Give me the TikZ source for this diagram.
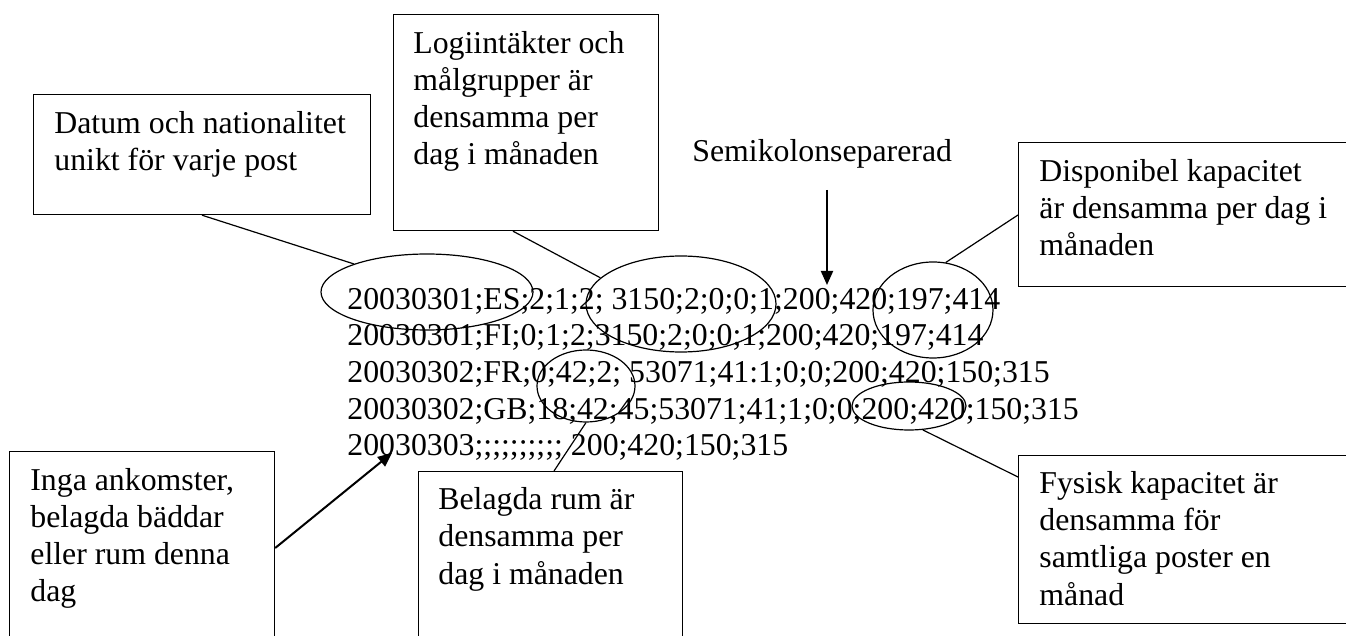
\documentclass[tikz,border=0pt]{standalone}
\usepackage{fontspec}
\setmainfont{Liberation Serif}
\usetikzlibrary{shapes.geometric,arrows.meta,calc}
\tikzset{
  box/.style={draw, line width=0.6pt, rectangle, inner sep=0pt, anchor=north west},
  lbl/.style={anchor=base west, inner sep=0pt, align=left, font=\fontsize{15.9}{18.6}\selectfont},
  ring/.style={draw, line width=0.6pt, ellipse, inner sep=0pt},
  conn/.style={line width=0.6pt},
  arr/.style={line width=1pt, -{Triangle[length=7pt,width=6pt]}}
}
\begin{document}
\begin{tikzpicture}[x=0.5pt,y=-0.5pt]
\clip (0,0) rectangle (1346,636);
\fill[white] (0,0) rectangle (1346,636);
% boxes
\node[box, minimum width=168.5pt, minimum height=60pt] (db) at (33,94) {};
\node[box, minimum width=132.5pt, minimum height=108pt] (lb) at (393,14) {};
\node[box, minimum width=170pt, minimum height=72pt] (dpb) at (1018,142) {};
\node[box, minimum width=170pt, minimum height=84pt] (fb) at (1018,455) {};
\node[box, minimum width=132.5pt, minimum height=100pt] (ib) at (9,451) {};
\node[box, minimum width=132pt, minimum height=100pt] (bb) at (418,471) {};
% texts (anchor base = baseline of the last line)
\node[lbl] (dt) at (54,171) {Datum och nationalitet\\unikt för varje post};
\node[lbl] (lt) at (413,165) {Logiintäkter och\\målgrupper är\\densamma per\\dag i månaden};
\node[lbl] (semi) at (692,162) {Semikolonseparerad};
\node[lbl] (dpt) at (1039,256) {Disponibel kapacitet\\är densamma per dag i\\månaden};
\node[lbl] (ft) at (1039,605) {Fysisk kapacitet är\\densamma för\\samtliga poster en\\månad};
\node[lbl] (it) at (30,602) {Inga ankomster,\\belagda bäddar\\eller rum denna\\dag};
\node[lbl] (bt) at (438,584) {Belagda rum är\\densamma per\\dag i månaden};
% data
\node[anchor=base west, inner sep=0pt, align=left, font=\fontsize{15.9}{18.35}\selectfont] (data) at (347,456)
 {20030301;ES;2;1;2; 3150;2;0;0;1;200;420;197;414\\
  20030301;FI;0;1;2;3150;2;0;0;1;200;420;197;414\\
  20030302;FR;0;42;2; 53071;41:1;0;0;200;420;150;315\\
  20030302;GB;18;42;45;53071;41;1;0;0;200;420;150;315\\
  20030303;;;;;;;;;; 200;420;150;315};
% ellipses
\node[ring, minimum width=106pt, minimum height=38pt] (e1) at (427,292) {};
\node[ring, minimum width=95pt, minimum height=48pt] (e2) at (681,304) {};
\node[ring, minimum width=49pt, minimum height=36pt] (e3) at (586,386) {};
\node[ring, minimum width=60pt, minimum height=48pt] (e4) at (933,310) {};
\node[ring, minimum width=57pt, minimum height=24pt] (e5) at (909,406) {};
% connectors
\draw[conn] ($(db.south west)+(169,0)$) -- (e1.159);
\draw[conn] ($(lb.south west)+(120,0)$) -- (e2.162);
\draw[conn] ($(dpb.north west)+(0,73)$) -- (e4.75);
\draw[conn] (e5.300) -- ($(fb.north west)+(0,22)$);
\draw[conn] ($(bb.north west)+(136,0)$) -- (e3.270);
\coordinate (semistart) at (827,190);
\coordinate (semitip) at (827,285);
\draw[arr] (semistart) -- (semitip);
\coordinate (ingatip) at (392,453);
\draw[arr] ($(ib.north east)+(0,97)$) -- (ingatip);
\end{tikzpicture}
\end{document}
